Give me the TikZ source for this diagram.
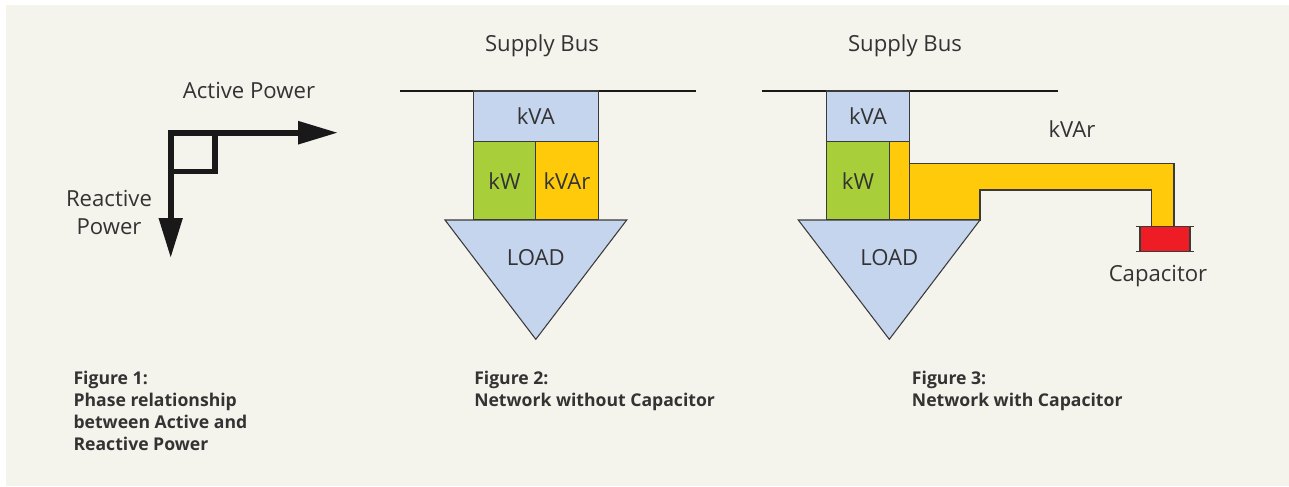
\documentclass[tikz,border=0pt]{standalone}
\usepackage{fontspec}
\setmainfont{Open Sans}
\usetikzlibrary{arrows.meta}
\definecolor{paper}{HTML}{F4F3EC}
\definecolor{ink}{HTML}{333333}
\definecolor{edge}{HTML}{3A3A3A}
\definecolor{kvablue}{HTML}{C6D5EE}
\definecolor{kwgreen}{HTML}{A8CF3A}
\definecolor{kvaryellow}{HTML}{FFCA0A}
\definecolor{capred}{HTML}{EE1C25}
\begin{document}
\begin{tikzpicture}[
    x=0.75pt, y=-0.75pt,
    box/.style={
        rectangle,
        draw=edge,
        line width=0.8pt,
        inner sep=0pt,
        minimum height=58.7pt,
        text=ink,
        font=\fontsize{16.6pt}{21pt}\selectfont
    },
    label/.style={
        text=ink,
        inner sep=0pt,
        font=\fontsize{16.6pt}{21pt}\selectfont
    },
    caption/.style={
        text=ink,
        inner sep=0pt,
        anchor=north west,
        align=left,
        font=\fontsize{13.2pt}{16.4pt}\selectfont\bfseries
    },
    vec/.style={
        draw=black!90,
        line width=4.3pt
    },
    bus/.style={
        draw=black!90,
        line width=0.8pt
    },
    load/.style={
        draw=edge,
        line width=0.8pt,
        fill=kvablue
    }
]

% Background
\useasboundingbox (0,0) rectangle (1289,486);
\fill[white] (0,0) rectangle (1289,486);
\fill[paper] (6,5) rectangle (1289,486);

% Figure 1: phase relationship
\coordinate (corner) at (170.7,132.7);
\coordinate (activeEnd) at (338,132.7);
\coordinate (reactiveEnd) at (170.7,258);
\coordinate (sqA) at (215.3,132.7);
\coordinate (sqB) at (215.3,171.5);
\coordinate (sqC) at (170.7,171.5);
\draw[vec, {Triangle[length=30pt, width=17pt]}-{Triangle[length=30pt, width=16.5pt]}]
    (reactiveEnd) -- (corner) -- (activeEnd);
\draw[vec] (sqA) -- (sqB) -- (sqC);
\node[label] (active) at (249,90) {Active Power};
\node[label, align=center] (reactive) at (109,212) {Reactive\\Power};

% Figure 2: network without capacitor
\node[label] (bus2) at (542,46) {Supply Bus};
\coordinate (busL2) at (400,91);
\coordinate (busR2) at (696,91);
\draw[bus] (busL2) -- (busR2);
\node[box, fill=kvablue, minimum width=93.75pt, minimum height=38pt] (kva2) at (535.8,116.3) {kVA};
\node[box, fill=kwgreen, minimum width=46.8pt] (kw2) at (504.5,180.85) {kW};
\node[box, fill=kvaryellow, minimum width=47pt] (kvar2) at (567,180.85) {kVAr};
\draw[load] (445,220) -- (626.7,220) -- (535.8,339.3) -- cycle;
\node[label] (load2) at (535.8,258) {LOAD};

% Figure 3: network with capacitor
\node[label] (bus3) at (905,46) {Supply Bus};
\coordinate (busL3) at (762,91);
\coordinate (busR3) at (1058,91);
\draw[bus] (busL3) -- (busR3);
\draw[load, fill=kvaryellow] (909.3,163.3) -- (1174,163.3) -- (1174,226.7) -- (1151.7,226.7)
    -- (1151.7,190) -- (980,190) -- (980,220) -- (909.3,220);
\node[box, fill=kvablue, minimum width=62pt, minimum height=38pt] (kva3) at (868,116.3) {kVA};
\node[box, fill=kwgreen, minimum width=47pt] (kw3) at (858,180.85) {kW};
\node[box, fill=kvaryellow, minimum width=15pt] (kvar3) at (899.3,180.85) {};
\draw[load] (798.3,220) -- (980,220) -- (889.3,339.3) -- cycle;
\node[label] (load3) at (889.3,258) {LOAD};
\node[label] (kvarText) at (1072,129) {kVAr};
\node[box, fill=capred, minimum width=37.5pt, minimum height=18.75pt] (cap) at (1165,239.2) {};
\draw[load] (1136,226.7) -- (1194,226.7);
\draw[load] (1136,251.7) -- (1194,251.7);
\node[label] (capText) at (1158,276) {Capacitor};

% Captions
\node[caption] (fig1) at (73.3,371) {Figure 1:\\Phase relationship\\between Active and\\Reactive Power};
\node[caption] (fig2) at (474,371) {Figure 2:\\Network without Capacitor};
\node[caption] (fig3) at (911.7,371) {Figure 3:\\Network with Capacitor};

\end{tikzpicture}
\end{document}
